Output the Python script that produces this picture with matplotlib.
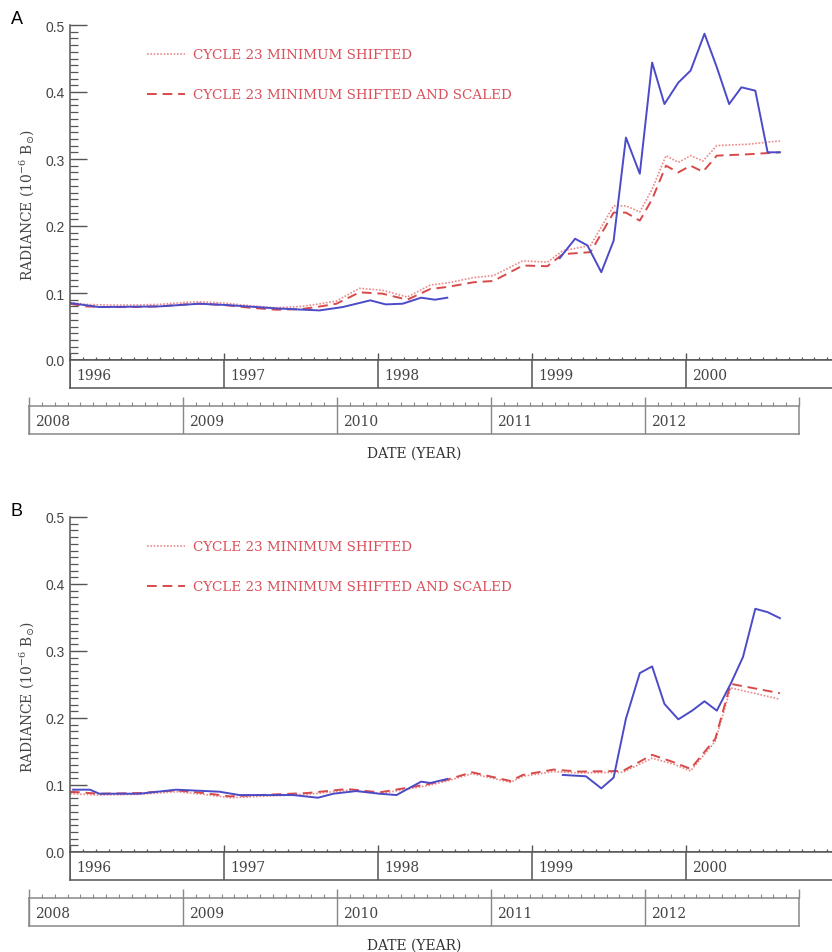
import numpy as np
import matplotlib.pyplot as plt
from matplotlib.ticker import MultipleLocator
from matplotlib.lines import Line2D

# tamanho da figura em pixels
W, H = 832, 953

# ---- painel A ----
tA_shift = [1996.00, 1996.10, 1996.25, 1996.40, 1996.58, 1996.75, 1996.84, 1997.00,
            1997.17, 1997.34, 1997.50, 1997.60, 1997.73, 1997.88, 1998.03, 1998.19,
            1998.34, 1998.45, 1998.62, 1998.75, 1998.94, 1999.10, 1999.20, 1999.38,
            1999.53, 1999.61, 1999.70, 1999.78, 1999.87, 1999.95, 2000.03, 2000.11,
            2000.20, 2000.40, 2000.61]
A_shifted = [0.086, 0.083, 0.082, 0.082, 0.083, 0.086, 0.087, 0.085,
             0.081, 0.078, 0.080, 0.083, 0.088, 0.107, 0.104, 0.094,
             0.112, 0.115, 0.123, 0.126, 0.148, 0.146, 0.163, 0.171,
             0.230, 0.230, 0.221, 0.255, 0.305, 0.295, 0.305, 0.297,
             0.320, 0.322, 0.327]
A_scaled = [0.084, 0.080, 0.079, 0.079, 0.080, 0.083, 0.084, 0.082,
            0.078, 0.075, 0.076, 0.079, 0.084, 0.101, 0.099, 0.090,
            0.106, 0.109, 0.116, 0.118, 0.141, 0.140, 0.158, 0.161,
            0.220, 0.220, 0.208, 0.240, 0.290, 0.280, 0.290, 0.281,
            0.305, 0.307, 0.310]

tA_c24 = [1996.00, 1996.19, 1996.58, 1996.84, 1997.02, 1997.34, 1997.62, 1997.77,
          1997.95, 1998.05, 1998.16, 1998.28, 1998.37, 1998.45, 1998.80,
          1999.18, 1999.28, 1999.36, 1999.45, 1999.53, 1999.61, 1999.70, 1999.78,
          1999.86, 1999.95, 2000.03, 2000.12, 2000.20, 2000.28, 2000.36, 2000.45,
          2000.53, 2000.61]
A_c24 = [0.085, 0.079, 0.080, 0.084, 0.082, 0.077, 0.074, 0.079,
         0.089, 0.083, 0.084, 0.093, 0.090, 0.093, np.nan,
         0.152, 0.181, 0.171, 0.131, 0.178, 0.332, 0.278, 0.444,
         0.382, 0.414, 0.432, 0.487, 0.437, 0.382, 0.407, 0.402,
         0.310, 0.310]

# ---- painel B ----
tB_shift = [1996.00, 1996.19, 1996.45, 1996.69, 1996.87, 1997.04, 1997.23, 1997.54,
            1997.80, 1998.01, 1998.14, 1998.32, 1998.45, 1998.61, 1998.86, 1998.94,
            1999.14, 1999.31, 1999.59, 1999.78, 1999.92, 2000.03, 2000.19, 2000.29,
            2000.61]
B_shifted = [0.087, 0.085, 0.086, 0.090, 0.086, 0.081, 0.083, 0.086,
             0.092, 0.087, 0.092, 0.099, 0.106, 0.117, 0.104, 0.113,
             0.120, 0.118, 0.119, 0.140, 0.131, 0.121, 0.165, 0.245,
             0.228]
B_scaled = [0.090, 0.087, 0.088, 0.092, 0.088, 0.083, 0.085, 0.088,
            0.094, 0.089, 0.094, 0.101, 0.108, 0.119, 0.106, 0.115,
            0.123, 0.120, 0.121, 0.145, 0.134, 0.124, 0.169, 0.251,
            0.237]

tB_c24 = [1996.02, 1996.13, 1996.19, 1996.45, 1996.69, 1996.97, 1997.10, 1997.45,
          1997.61, 1997.71, 1997.86, 1998.01, 1998.12, 1998.28, 1998.34, 1998.45,
          1998.80,
          1999.20, 1999.35, 1999.45, 1999.53, 1999.61, 1999.70, 1999.78, 1999.86,
          1999.95, 2000.04, 2000.12, 2000.20, 2000.29, 2000.37, 2000.45, 2000.53,
          2000.61]
B_c24 = [0.093, 0.093, 0.087, 0.087, 0.093, 0.090, 0.085, 0.085,
         0.081, 0.087, 0.091, 0.087, 0.085, 0.105, 0.103, 0.109,
         np.nan,
         0.115, 0.113, 0.095, 0.111, 0.199, 0.267, 0.277, 0.221,
         0.198, 0.211, 0.225, 0.211, 0.251, 0.291, 0.363, 0.358,
         0.349]

anos1 = [1996, 1997, 1998, 1999, 2000]
anos2 = [2008, 2009, 2010, 2011, 2012]

rotulos = ['CYCLE 23 MINIMUM SHIFTED', 'CYCLE 23 MINIMUM SHIFTED AND SCALED']

cor_eixo = '#555555'
azul = '#4b4bc8'
verm_pont = '#ec8a8a'
verm_trac = '#d84a4a'
cor_texto_leg = '#d9505a'


def ret(x0, y0, x1, y1):
    return [x0 / W, 1 - y1 / H, (x1 - x0) / W, (y1 - y0) / H]


def painel(fig, off, letra, t_sh, y_sh, y_sc, t_c, y_c):
    ax = fig.add_axes(ret(70, 26 + off, 832, 361 + off))
    ax.plot(t_sh, y_sh, color=verm_pont, lw=1.2, ls=(0, (1, 1)))
    ax.plot(t_sh, y_sc, color=verm_trac, lw=1.4, ls=(0, (5, 3)))
    ax.plot(t_c, y_c, color=azul, lw=1.4)
    ax.set_xlim(1996, 1996 + 762 / 154)
    ax.set_ylim(0, 0.5)
    for s in ['top', 'right']:
        ax.spines[s].set_visible(False)
    for s in ['left', 'bottom']:
        ax.spines[s].set_color(cor_eixo)
        ax.spines[s].set_linewidth(1.1)
    ax.yaxis.set_minor_locator(MultipleLocator(0.01))
    ax.set_yticks(np.arange(0, 0.51, 0.1))
    ax.set_yticklabels(['%.1f' % v for v in np.arange(0, 0.51, 0.1)])
    ax.tick_params(axis='y', which='major', direction='in', length=12, width=1,
                   color=cor_eixo, labelsize=10, labelcolor='#444444', pad=4)
    ax.tick_params(axis='y', which='minor', direction='in', length=6, width=0.9,
                   color=cor_eixo)
    ax.set_xticks(anos1)
    ax.xaxis.set_minor_locator(MultipleLocator(1 / 12))
    ax.tick_params(axis='x', which='major', direction='in', length=5, width=1,
                   color=cor_eixo, labelbottom=False)
    ax.tick_params(axis='x', which='minor', direction='in', length=2.5, width=0.9,
                   color=cor_eixo)
    for lab in ax.get_yticklabels():
        lab.set_family('Liberation Sans')

    hs = [Line2D([], [], color=verm_pont, lw=1.2, ls=(0, (1, 1))),
          Line2D([], [], color=verm_trac, lw=1.4, ls=(0, (5, 3)))]
    leg = ax.legend(hs, rotulos, loc='upper left', bbox_to_anchor=(0.101, 0.93),
                    frameon=False, borderpad=0, borderaxespad=0, handlelength=2.8,
                    handletextpad=0.6, labelspacing=2.0,
                    prop={'family': 'DejaVu Serif', 'size': 9.7})
    for tx in leg.get_texts():
        tx.set_color(cor_texto_leg)

    # primeira faixa de anos (ciclo 23)
    r1 = fig.add_axes(ret(70, 361 + off, 832, 389 + off))
    r1.set_xlim(ax.get_xlim())
    r1.set_ylim(0, 1)
    r1.set_xticks([])
    r1.set_yticks([])
    r1.spines['right'].set_visible(False)
    for s in ['left', 'bottom', 'top']:
        r1.spines[s].set_color(cor_eixo)
        r1.spines[s].set_linewidth(1.1)
    for a in anos1:
        r1.axvline(a, color=cor_eixo, lw=1.1)
        r1.text(a + 0.04, 0.45, str(a), ha='left', va='center', fontsize=10,
                family='DejaVu Serif', color='#444444')

    # segunda faixa de anos (ciclo 24)
    r2 = fig.add_axes(ret(29, 407 + off, 799, 435 + off))
    r2.set_xlim(2008, 2013)
    r2.set_ylim(0, 1)
    r2.set_yticks([])
    r2.set_xticks(range(2008, 2014))
    r2.xaxis.set_minor_locator(MultipleLocator(1 / 12))
    r2.tick_params(axis='x', which='both', top=True, bottom=False,
                   labelbottom=False, direction='out', color='#888888')
    r2.tick_params(axis='x', which='major', length=6.5, width=1)
    r2.tick_params(axis='x', which='minor', length=3, width=0.8)
    for s in r2.spines.values():
        s.set_color('#888888')
        s.set_linewidth(1.1)
    for a in anos2:
        r2.axvline(a, color='#888888', lw=1.0)
        r2.text(a + 0.04, 0.45, str(a), ha='left', va='center', fontsize=10,
                family='DejaVu Serif', color='#444444')

    fig.text(414 / W, 1 - (454 + off) / H, 'DATE (YEAR)', ha='center', va='center',
             fontsize=10, family='DejaVu Serif', color='#333333')
    fig.text(27 / W, 1 - (205 + off) / H, r'RADIANCE (10$^{-6}$ B$_{\odot}$)',
             rotation=90, ha='center', va='center', fontsize=10,
             family='DejaVu Serif', color='#444444')
    fig.text(17 / W, 1 - (19 + off) / H, letra, ha='center', va='center',
             fontsize=13, family='Liberation Sans', color='black')
    return ax


plt.rcParams['mathtext.fontset'] = 'dejavuserif'
fig = plt.figure(figsize=(W / 100, H / 100), dpi=100)
painel(fig, 0, 'A', tA_shift, A_shifted, A_scaled, tA_c24, A_c24)
painel(fig, 492, 'B', tB_shift, B_shifted, B_scaled, tB_c24, B_c24)

plt.savefig('out.png', dpi=100)
